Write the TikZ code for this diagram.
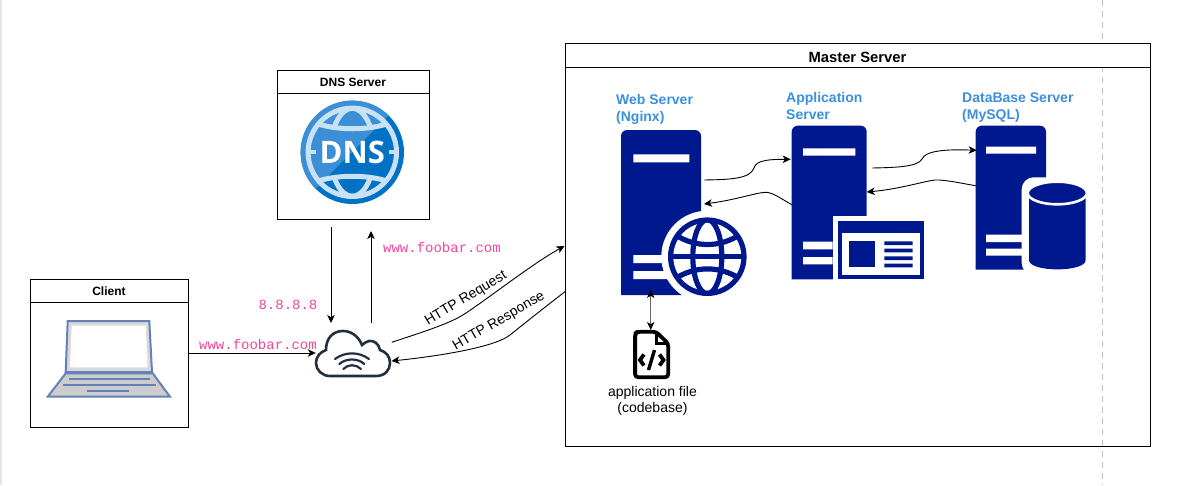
\documentclass[tikz,border=0pt]{standalone}
\usepackage{fontspec}
\setmainfont{Liberation Sans}
\setmonofont{Liberation Mono}
\newfontfamily\dnsfont{Open Sans}
\usetikzlibrary{arrows.meta,positioning}
\definecolor{srvblue}{HTML}{00188D}
\definecolor{labelblue}{HTML}{3B8FDF}
\definecolor{urlpink}{HTML}{F0479B}
\definecolor{cloudnavy}{HTML}{232F3E}
\definecolor{lapedge}{HTML}{6482B9}
\definecolor{dnsdark}{HTML}{0072C6}
\definecolor{dnslight}{HTML}{3A8FD6}
\definecolor{dnsgrid}{HTML}{C9E1F5}
\tikzset{
    flow/.style={-{Stealth[length=8pt, width=7.5pt, inset=2.2pt]}, line width=0.9pt, black},
    flowboth/.style={{Stealth[length=8pt, width=7.5pt, inset=2.2pt, black]}-{Stealth[length=8pt, width=7.5pt, inset=2.2pt, black]}, line width=1pt, black!60},
    boxnode/.style={draw, line width=1pt, fill=white, inner sep=0pt},
    headnode/.style={font=\bfseries\fontsize{12}{14}\selectfont, inner sep=0pt},
    srvlabel/.style={font=\bfseries\fontsize{14}{17}\selectfont, text=labelblue, align=left, anchor=west, inner sep=0pt},
    urllabel/.style={font=\ttfamily\fontsize{14}{16}\selectfont, text=urlpink, inner sep=0pt},
    httplabel/.style={font=\fontsize{14}{16}\selectfont, inner sep=0pt},
    iconbox/.style={inner sep=0pt}
}
% top corners rounded, bottom square
\newcommand{\srvbody}[4]{\fill[srvblue] (#1,#4) {[rounded corners=6pt] -- (#1,#2) -- (#3,#2) -- (#3,#4)} -- cycle;}
\begin{document}
\begin{tikzpicture}[x=1pt,y=-1pt]
\useasboundingbox (0,0) rectangle (1187,485);
\fill[black!10] (0,0) rectangle (2,485);
\draw[black!25, dashed, line width=1pt, dash pattern=on 6pt off 5pt] (1102,0) -- (1102,485);

% client
\node[boxnode, minimum width=158pt, minimum height=148pt] (client) at (109,353) {};
\node[boxnode, minimum width=158pt, minimum height=23pt] (clienthead) at (109,290.5) {};
\node[headnode] (clientname) at (109,291.7) {Client};
\node[iconbox, minimum width=123pt, minimum height=76pt] (laptop) at (109,359) {};
\fill[black!15] (67.7,321) -- (149.3,321) -- (152,372) -- (65.7,372) -- cycle;
\draw[lapedge, line width=2pt] (67.7,321) -- (149.3,321) -- (152,372) -- (65.7,372) -- cycle;
\fill[white] (71.7,325.7) -- (145.7,325.7) -- (147.7,367.3) -- (70,367.3) -- cycle;
\draw[lapedge, line width=2pt, fill=black!20] (65.7,373.3) -- (152.7,373.3) -- (170,396.7) -- (47.7,396.7) -- cycle;
\draw[lapedge, line width=2pt] (69,378.7) -- (150,378.7) (63.3,385.3) -- (155.7,385.3) (87.3,391) -- (128.7,391);

% dns
\node[boxnode, minimum width=152pt, minimum height=149pt] (dns) at (353,144.5) {};
\node[boxnode, minimum width=152pt, minimum height=23pt] (dnshead) at (353,81.5) {};
\node[headnode] (dnsname) at (353,82.7) {DNS Server};
\node[iconbox, minimum size=103pt] (dnsicon) at (352.3,152.3) {};
\fill[dnsdark] (dnsicon) circle (51.7pt);
\begin{scope}
    \clip (dnsicon) circle (51.7pt);
    \fill[dnslight] (290,214) -- (414,90) -- (290,90) -- cycle;
\end{scope}
\draw[dnsgrid, line width=5pt] (dnsicon) circle (44.2pt);
\begin{scope}
    \clip (dnsicon) circle (44pt);
    \draw[dnsgrid, line width=5pt] (306,119) .. controls (330,132) and (375,132) .. (399,119);
    \draw[dnsgrid, line width=5pt] (306,186) .. controls (330,173) and (375,173) .. (399,186);
    \clip (300,100) rectangle (405,129) (300,176) rectangle (405,205);
    \draw[dnsgrid, line width=5pt] (dnsicon) ellipse (22pt and 44pt);
\end{scope}
\draw[dnsgrid, line width=4pt] (308,152.3) -- (316,152.3) (389,152.3) -- (397,152.3);
\node[text=white, font=\dnsfont\bfseries\fontsize{31}{34}\selectfont, inner sep=0pt] (dnstext) at (dnsicon) {DNS};

% cloud
\node[iconbox, minimum width=74pt, minimum height=46pt] (cloud) at (353,353) {};
\draw[cloudnavy, line width=2.6pt] (330,376) -- (376,376) .. controls (385,376) and (390,370) .. (390,363)
    .. controls (390,356) and (386,352) .. (380,350) .. controls (379,344) and (374,340) .. (369,341)
    .. controls (366,342) and (364,343) .. (362,345) .. controls (358,335) and (350,331) .. (343,331)
    .. controls (333,331) and (326,338) .. (326,350) .. controls (320,352) and (316,357) .. (316,363)
    .. controls (316,370) and (322,376) .. (330,376) -- cycle;
\draw[cloudnavy, line width=2.2pt, line cap=round] (335,359) .. controls (345,351.5) and (359,351.5) .. (369,359)
    (339.3,364) .. controls (346,358) and (358,358) .. (364.3,364)
    (343.3,369) .. controls (348,364) and (356,364) .. (361,369);

% master
\node[boxnode, minimum width=585pt, minimum height=403pt, fill=none] (master) at (857.5,244.5) {};
\node[boxnode, minimum width=585pt, minimum height=24pt] (masterhead) at (857.5,55) {};
\node[font=\bfseries\fontsize{14.8}{16}\selectfont, inner sep=0pt] (mastername) at (857.5,57.5) {Master Server};

\node[srvlabel] (weblabel) at (616,109) {Web Server\\(Nginx)};
\node[srvlabel] (applabel) at (786,105.5) {Application\\Server};
\node[srvlabel] (dblabel) at (962,107.2) {DataBase Server\\(MySQL)};

% web server
\srvbody{621}{130}{701}{295}
\fill[white] (633.3,154.3) rectangle (689.3,162.3) (633.3,255) rectangle (670,263) (633.3,271) rectangle (670,279);
\node[iconbox, minimum size=78.6pt] (web) at (707.3,256.7) {};
\fill[white] (web) circle (46pt);
\fill[srvblue] (web) circle (39.3pt);
\fill[white] (web) circle (34pt);
\begin{scope}
    \clip (web) circle (36pt);
    \draw[srvblue, line width=5.2pt] (web) ellipse (14.5pt and 37pt);
    \draw[srvblue, line width=5.2pt] (670,256.7) -- (745,256.7);
    \draw[srvblue, line width=5.2pt] (674,234) .. controls (695,248) and (720,248) .. (741,234);
    \draw[srvblue, line width=5.2pt] (674,279.4) .. controls (695,265.4) and (720,265.4) .. (741,279.4);
\end{scope}

% application server
\srvbody{791.7}{125.7}{866.7}{279.3}
\fill[white] (832.7,215.7) rectangle (870,282);
\fill[white] (803,148.3) rectangle (855.3,155.7) (803,241.7) rectangle (832.7,249.3) (803,257) rectangle (832.7,264.3);
\node[iconbox, minimum width=85.7pt, minimum height=58pt, fill=srvblue] (page) at (881.15,250.3) {};
\fill[white] (841.7,233.3) rectangle (920,275);
\fill[srvblue] (849.3,241.3) rectangle (875.3,267.3);
\fill[srvblue] (884.3,241.3) rectangle (912.7,245) (884.3,248.7) rectangle (912.7,252.3) (884.3,256.3) rectangle (912.7,260) (884.3,263.7) rectangle (912.7,267.3);

% database server
\srvbody{975.7}{125.7}{1046}{269.7}
\fill[white] (986,146.7) rectangle (1036,153.7) (986,234.7) rectangle (1025,242) (986,248.7) rectangle (1025,255.7);
\node[iconbox, minimum width=56.7pt, minimum height=86pt] (db) at (1057.3,226.3) {};
\fill[white, rounded corners=12pt] (1021.7,177.3) rectangle (1090,275);
\fill[srvblue] (1029,193) -- (1029,260) .. controls (1029,272.5) and (1085.7,272.5) .. (1085.7,260) -- (1085.7,193) -- cycle;
\draw[white, line width=2.6pt, fill=srvblue] (1057.3,193) ellipse (29.6pt and 11.3pt);

% file
\node[iconbox, minimum width=37pt, minimum height=49pt] (file) at (651.7,354.5) {};
\draw[black, line width=3.8pt, line join=round, rounded corners=3pt] (656,331.8) -- (637,331.8) -- (635.1,333.8) -- (635.1,377.2) -- (668.2,377.2) -- (668.2,343.5) -- cycle;
\draw[black, line width=2.4pt] (656.5,332) -- (656.5,343.5) -- (668,343.5);
\draw[black, line width=3.8pt, line join=miter] (644,354.5) -- (640,360) -- (644,365.5) (659.5,354.5) -- (663.5,360) -- (659.5,365.5);
\draw[black, line width=3.4pt] (654.5,350) -- (648.5,370);
\node[font=\fontsize{14}{16}\selectfont, align=center, inner sep=0pt] (filelabel) at (652.5,401) {application file\\(codebase)};

% connectors
\coordinate (dnsin) at (331,227);
\coordinate (cloudin) at (331,323);
\coordinate (cloudout) at (371,323);
\coordinate (dnsout) at (371,231);
\draw[flow] (client.east) -- (cloud.west);
\draw[flow] (dnsin) -- (cloudin);
\draw[flow] (cloudout) -- (dnsout);

\coordinate (cloudreq) at (391.7,342.3);
\coordinate (masterin) at (564.5,246);
\coordinate (masterout) at (565,291.7);
\coordinate (cloudresp) at (391.5,361);
\draw[flow] (cloudreq) .. controls (420,333) and (445,325) .. (460,316.7) .. controls (480,305) and (530,265) .. (masterin);
\draw[flow] (masterout) .. controls (545,307) and (525,323) .. (510,335) .. controls (495,347) and (440,356) .. (cloudresp);

\coordinate (webout) at (704.3,180);
\coordinate (appin) at (790.7,159.3);
\coordinate (appback) at (792.3,205);
\coordinate (webin) at (704,204);
\coordinate (appout) at (872.3,168);
\coordinate (dbin) at (976.7,150.3);
\coordinate (dbback) at (975.7,185.7);
\coordinate (appin2) at (866.7,192);
\draw[flow] (webout) .. controls (730,179.5) and (750,179) .. (754,168) .. controls (756,160) and (770,159.3) .. (appin);
\draw[flow] (appback) .. controls (780,198) and (772,192) .. (765,192.3) .. controls (755,193) and (735,200) .. (webin);
\draw[flow] (appout) .. controls (895,167.5) and (918,167) .. (922,159) .. controls (925,151) and (945,149) .. (dbin);
\draw[flow] (dbback) .. controls (965,184) and (945,179.5) .. (935,180) .. controls (925,181) and (900,189) .. (appin2);
\coordinate (filetop) at (650.7,330);
\coordinate (webbottom) at (650.7,290);
\draw[flowboth] (filetop) -- (webbottom);

% labels
\node[urllabel] (urlclient) at (258,344) {www.foobar.com};
\node[urllabel] (dnsaddr) at (288,304.5) {8.8.8.8};
\node[urllabel] (urldns) at (442,247.5) {www.foobar.com};
\node[httplabel, rotate=31] (reqlabel) at (466,298.5) {HTTP Request};
\node[httplabel, rotate=30] (resplabel) at (499,321.5) {HTTP Response};
\end{tikzpicture}
\end{document}
